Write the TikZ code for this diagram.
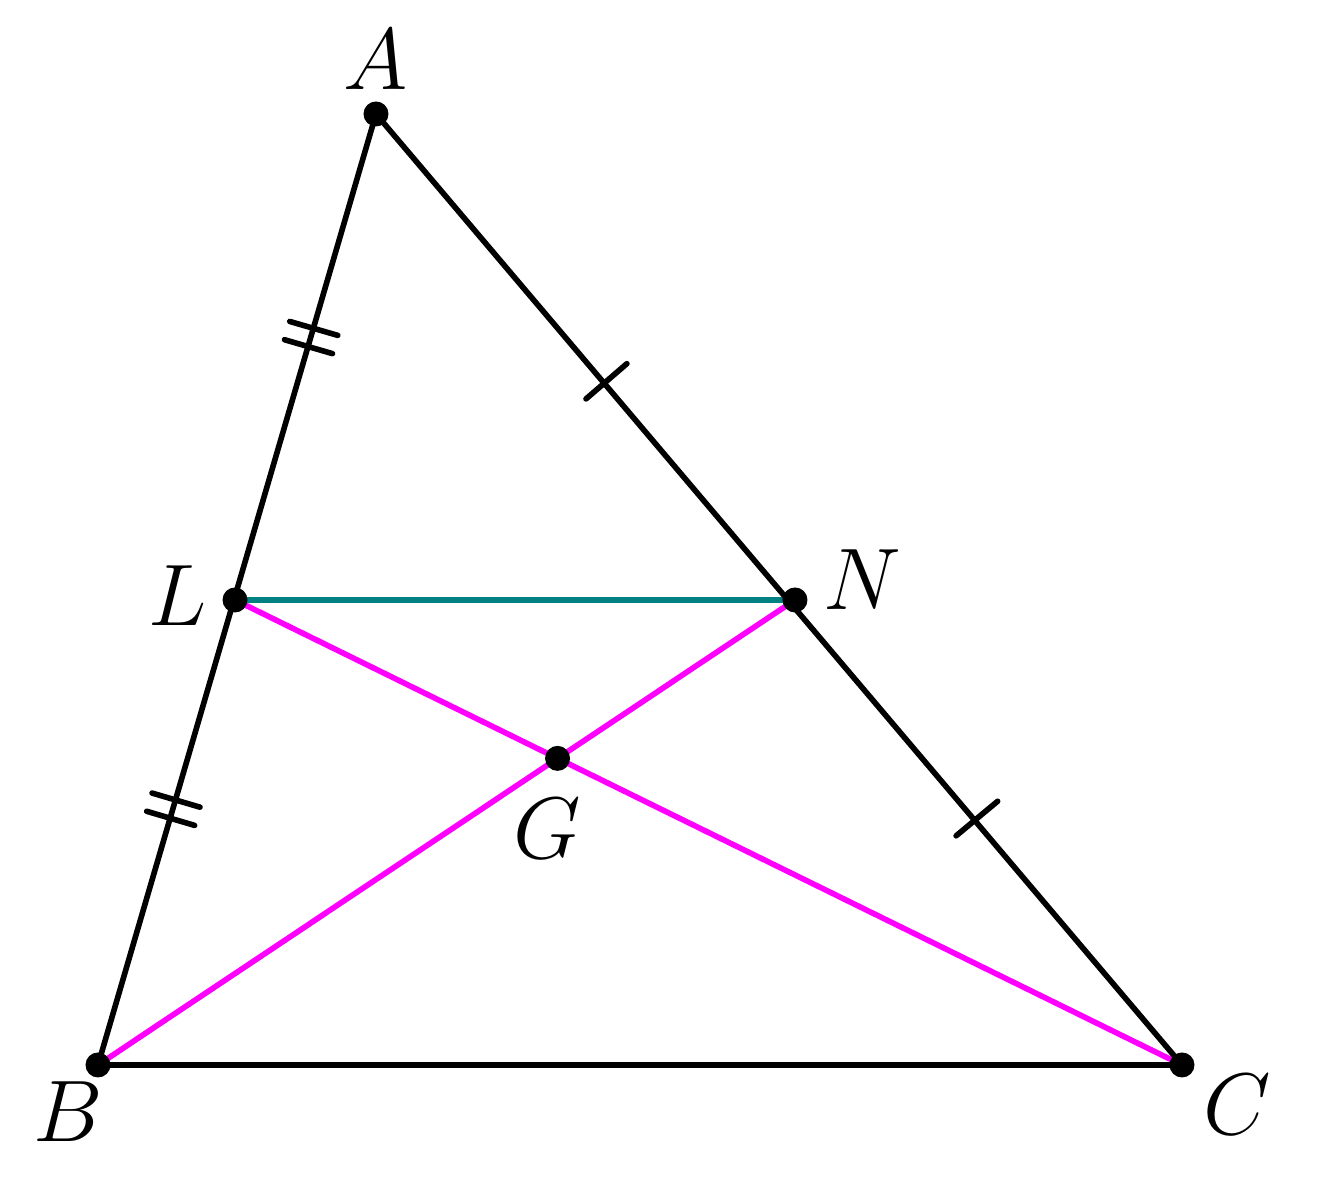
\documentclass[tikz,border=0pt]{standalone}
\usetikzlibrary{calc}
\definecolor{medteal}{RGB}{0,128,128}
\definecolor{puremag}{RGB}{255,0,255}
\tikzset{
	side/.style={line width=1.6pt, line cap=round},
	dot/.style={circle, fill=black, inner sep=0pt, minimum size=0.25cm},
	lbl/.style={font=\Huge},
	tick/.style={line width=1.6pt, line cap=round}
}
\begin{document}
\begin{tikzpicture}
		\useasboundingbox (0,0) rectangle (13.35,11.78);

		\coordinate (A) at (3.76,10.64);
		\coordinate (B) at (0.98,1.13);
		\coordinate (C) at (11.82,1.13);
		\coordinate (L) at (2.35,5.78);
		\coordinate (N) at (7.95,5.78);
		\coordinate (G) at (intersection of L--C and N--B);

		\draw[color=medteal, side] (L) -- (N);
		\draw[color=puremag, side]
			(L) -- (C)
			(N) -- (B);
		\draw[side] (A) -- (B) -- (C) -- cycle;

		% double ticks on AB, single ticks on AC
		\foreach \p/\q/\s in {A/L/.46, L/B/.45}
			\foreach \d in {-0.095,0.095} {
				\coordinate (m) at ($(\p)!\s!(\q)$);
				\coordinate (m) at ($(m)!\d cm!(\q)$);
				\draw[tick] ($(m)!.25cm!90:(\q)$) -- ($(m)!.25cm!-90:(\q)$);
			}
		\foreach \p/\q/\s in {A/N/.55, N/C/.47} {
			\coordinate (m) at ($(\p)!\s!(\q)$);
			\draw[tick] ($(m)!.27cm!90:(\q)$) -- ($(m)!.27cm!-90:(\q)$);
		}

		\foreach \v in {A,B,C,L,N,G}
			\node[dot] (d\v) at (\v) {};

		\node[lbl] (lA) at ($(A)+(0,0.54)$) {$A$};
		\node[lbl] (lB) at ($(B)+(-0.30,-0.47)$) {$B$};
		\node[lbl] (lC) at ($(C)+(0.55,-0.40)$) {$C$};
		\node[lbl] (lL) at ($(L)+(-0.57,0.04)$) {$L$};
		\node[lbl] (lN) at ($(N)+(0.67,0.20)$) {$N$};
		\node[lbl] (lG) at ($(G)+(-0.10,-0.70)$) {$G$};
	\end{tikzpicture}
\end{document}
